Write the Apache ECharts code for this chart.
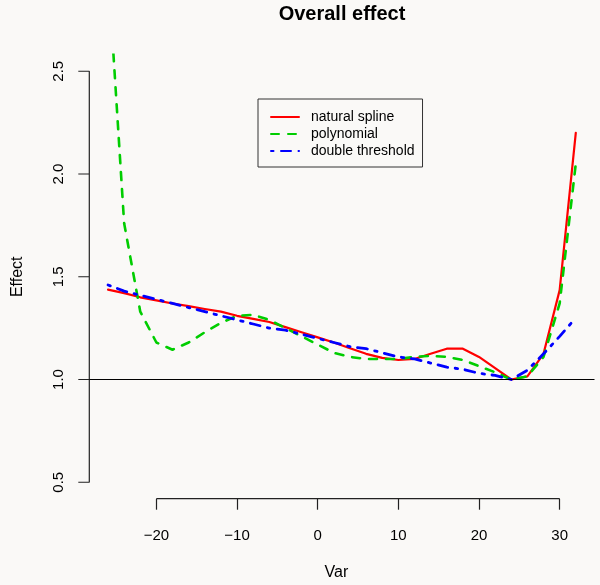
<!DOCTYPE html>
<html><head><meta charset="utf-8">
<script src="https://cdn.jsdelivr.net/npm/echarts@6/dist/echarts.min.js"></script>
<style>html,body{margin:0;padding:0;background:#faf9f7}#c{width:600px;height:585px}</style>
</head><body><div id="c"></div>
<script>
const xValues = [-26,-24,-22,-20,-18,-16,-14,-12,-10,-8,-6,-4,-2,0,2,4,6,8,10,12,14,16,18,20,22,24,26,28,30,32];
const naturalSpline = [1.437,1.42,1.40,1.385,1.37,1.357,1.343,1.33,1.31,1.295,1.28,1.255,1.23,1.205,1.18,1.152,1.125,1.105,1.095,1.10,1.125,1.15,1.15,1.11,1.055,1.0,1.015,1.125,1.435,2.20];
const polynomial = [3.0,1.76,1.33,1.18,1.145,1.18,1.23,1.275,1.31,1.315,1.29,1.25,1.21,1.17,1.13,1.11,1.10,1.10,1.10,1.11,1.115,1.11,1.095,1.065,1.035,1.0,1.015,1.11,1.37,2.05];
const doubleThreshold = [1.46,1.43,1.41,1.39,1.37,1.35,1.33,1.31,1.29,1.27,1.25,1.24,1.22,1.20,1.18,1.16,1.15,1.13,1.11,1.10,1.08,1.06,1.05,1.03,1.02,1.00,1.045,1.125,1.21,1.30];
const seriesNames = ['natural spline','polynomial','double threshold'];
const xTicks = [-20,-10,0,10,20,30];
const yTicks = [0.5,1.0,1.5,2.0,2.5];
const referenceLine = 1;
const plotLeftX = -28.32, xMax = 34.32, yMin = 0.42, yMax = 2.58;

const FONT = '"Liberation Sans", Arial, Helvetica, sans-serif';
const pair = (xs, ys) => xs.map((x, i) => [x, ys[i]]);
const AX = '#222';
const TICK_LEN = 11;
const PLOT_LEFT_PX = 89.3, PLOT_RIGHT_GAP = 5.5, CHART_W = 600;
// widen the grid to the left by one tick length so the outward y ticks lie inside it
const pxPerUnit = (CHART_W - PLOT_LEFT_PX - PLOT_RIGHT_GAP) / (xMax - plotLeftX);
const tickLenX = TICK_LEN / pxPerUnit;
const xAxisMin = plotLeftX - tickLenX;
const hiddenLine = {show: true, onZero: false, lineStyle: {color: 'rgba(0,0,0,0)', width: 0}};

const yAxisPath = [];
yTicks.forEach((t, i) => {
  yAxisPath.push([plotLeftX - tickLenX, t], [plotLeftX, t]);
  if (i < yTicks.length - 1) yAxisPath.push([plotLeftX, yTicks[i + 1]]);
});

const chart = echarts.init(document.getElementById('c'), null, {renderer: 'canvas'});
chart.setOption({
  backgroundColor: '#faf9f7',
  animation: false,
  textStyle: {fontFamily: FONT},
  graphic: [{
    type: 'text', x: 342, y: 14,
    style: {text: 'Overall effect', fontFamily: FONT, fontSize: 20, fontWeight: 'bold', fill: '#000',
      textAlign: 'center', textVerticalAlign: 'middle'}
  }],
  grid: {left: PLOT_LEFT_PX - TICK_LEN, right: PLOT_RIGHT_GAP, top: 54.8, bottom: 86.3,
    containLabel: false, outerBoundsMode: 'none'},
  legend: {
    data: seriesNames,
    orient: 'vertical', left: 258, top: 99,
    itemWidth: 28, itemHeight: 14, itemGap: 3,
    padding: [11, 8, 9, 12],
    borderColor: '#333', borderWidth: 1, backgroundColor: '#faf9f7',
    itemStyle: {opacity: 0},
    textStyle: {fontFamily: FONT, fontSize: 14, color: '#000', padding: [0, 0, 0, 7]},
    selectedMode: false
  },
  xAxis: {
    type: 'value', min: xAxisMin, max: xMax, position: 'bottom',
    axisLine: hiddenLine,
    splitLine: {show: false},
    axisTick: {show: true, customValues: xTicks, length: TICK_LEN, lineStyle: {color: AX, width: 1.2}},
    axisLabel: {customValues: xTicks, margin: 30, fontSize: 15, color: '#000', fontFamily: FONT,
      formatter: v => v < 0 ? '\u2212' + Math.abs(v) : String(v)},
    name: 'Var', nameLocation: 'middle', nameGap: 66,
    nameTextStyle: {fontSize: 16, color: '#000', fontFamily: FONT}
  },
  yAxis: {
    type: 'value', min: yMin, max: yMax, position: 'left',
    axisLine: hiddenLine,
    splitLine: {show: false},
    axisTick: {show: false},
    axisLabel: {customValues: yTicks, rotate: 90, margin: 23 - TICK_LEN, fontSize: 15, color: '#000', fontFamily: FONT,
      formatter: v => v.toFixed(1)},
    name: 'Effect', nameLocation: 'middle', nameGap: 64 - TICK_LEN, nameRotate: 90,
    nameTextStyle: {fontSize: 16, color: '#000', fontFamily: FONT}
  },
  series: [
    {
      name: seriesNames[0], type: 'line', data: pair(xValues, naturalSpline),
      showSymbol: false, symbol: 'none', color: '#ff0000',
      lineStyle: {color: '#ff0000', width: 2.2, cap: 'round', join: 'round'},
      markLine: {
        silent: true, symbol: 'none', label: {show: false},
        lineStyle: {color: '#000', width: 1.2, type: 'solid'},
        data: [[{coord: [plotLeftX, referenceLine]}, {coord: [xMax, referenceLine]}]]
      },
      z: 3
    },
    {
      name: seriesNames[1], type: 'line', data: pair(xValues, polynomial),
      showSymbol: false, symbol: 'none', color: '#00cd00',
      lineStyle: {color: '#00cd00', width: 2.6, type: [8, 9], cap: 'round', join: 'round'},
      z: 3
    },
    {
      name: seriesNames[2], type: 'line', data: pair(xValues, doubleThreshold),
      showSymbol: false, symbol: 'none', color: '#0000ff',
      lineStyle: {color: '#0000ff', width: 2.8, type: [2.5, 7.5, 10, 7.5], cap: 'round', join: 'round'},
      z: 3
    },
    {
      name: 'xAxisLine', type: 'line', data: [[xTicks[0], yMin], [xTicks[xTicks.length - 1], yMin]],
      symbol: 'none', silent: true, clip: false,
      lineStyle: {color: AX, width: 1.2}, z: 2
    },
    {
      name: 'yAxisLine', type: 'line', data: yAxisPath,
      symbol: 'none', silent: true, clip: false,
      lineStyle: {color: AX, width: 1.2, join: 'bevel'}, z: 2
    }
  ]
});
</script></body></html>
